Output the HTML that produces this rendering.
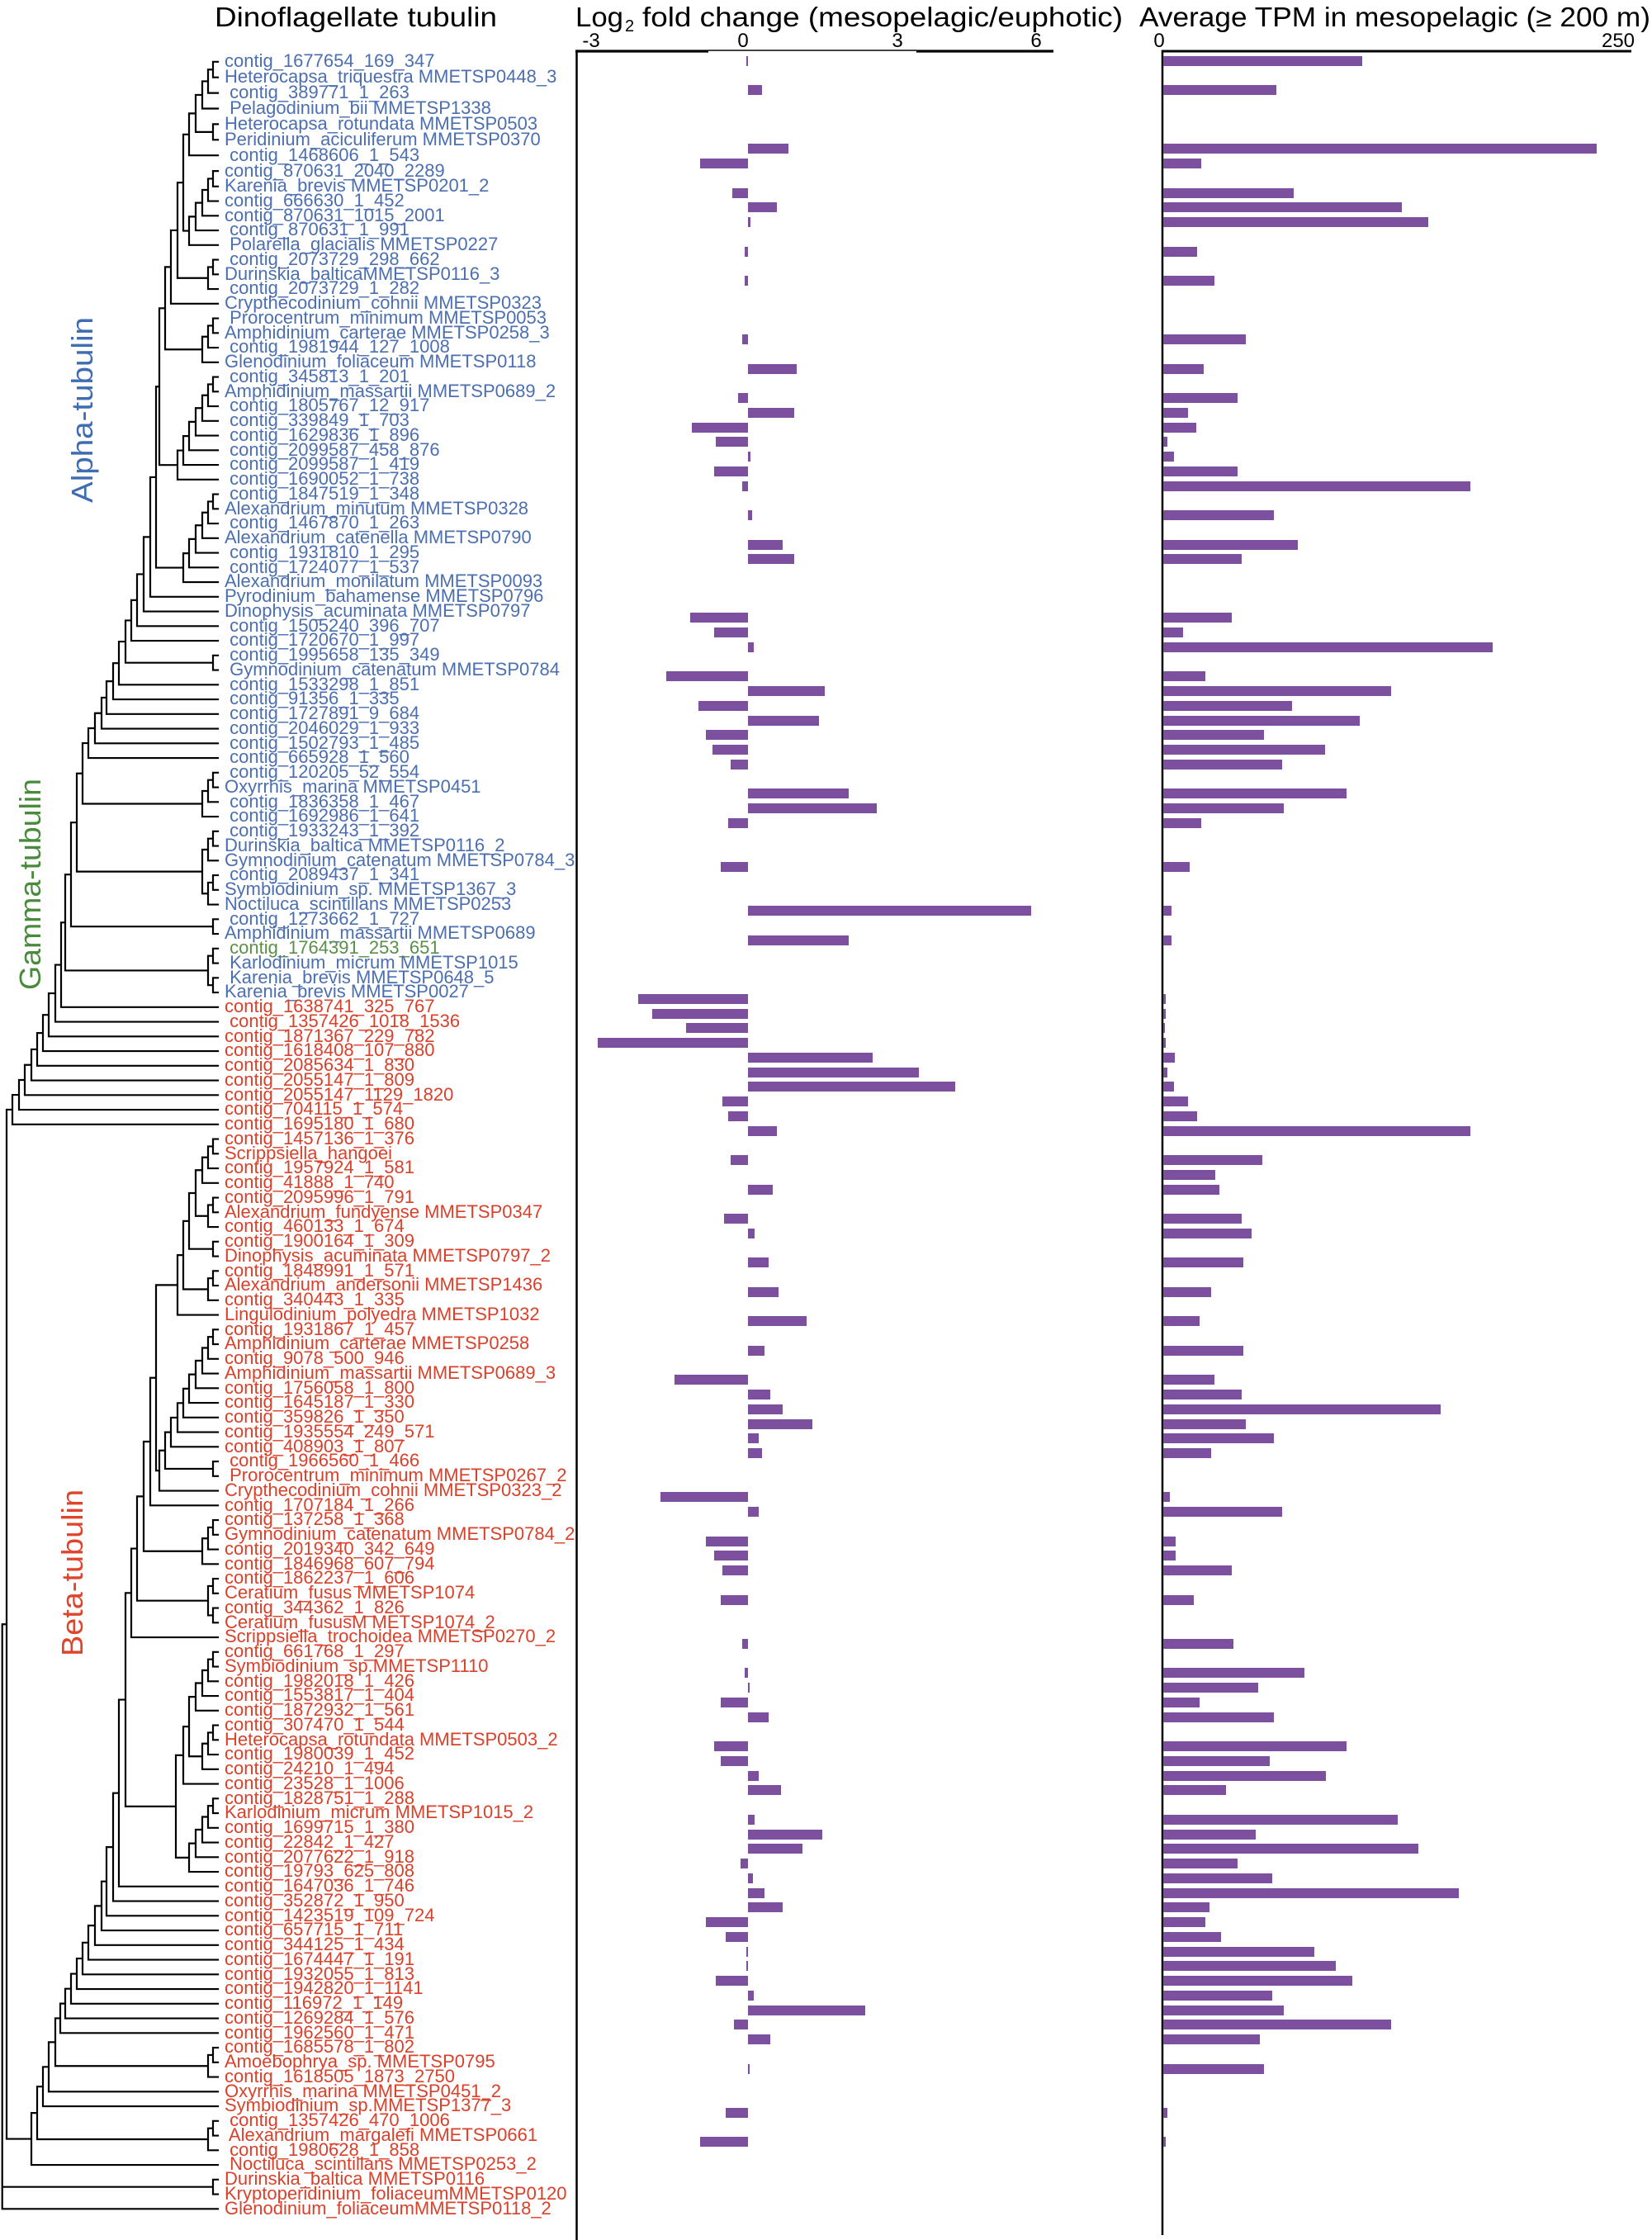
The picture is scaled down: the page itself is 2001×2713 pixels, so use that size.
<!DOCTYPE html>
<html><head><meta charset="utf-8">
<style>
html,body{margin:0;padding:0;background:#fff}
body{width:2001px;height:2713px;position:relative;overflow:hidden;font-family:"Liberation Sans",sans-serif}
svg{position:absolute;left:0;top:0}
#rows{position:absolute;left:0;top:64.925px;width:2001px}
.r{position:relative;height:17.75px}
.r span{position:absolute;left:272px;top:8.3px;line-height:20px;font-size:22px;white-space:pre}
.r i{position:absolute;top:2.875px;height:12px;background:#7d4f9f}
.p{left:905.8px}.n{right:1095.2px}.t{left:1409px}
.bl{color:#4b6fb0}.gr{color:#5a8f48}.rd{color:#d9412b}
</style></head><body>
<svg width="2001" height="2713" viewBox="0 0 2001 2713" font-family="Liberation Sans, sans-serif">
<text x="260" y="32" font-size="33" textLength="342" lengthAdjust="spacingAndGlyphs">Dinoflagellate tubulin</text>
<text x="697" y="32" font-size="33" textLength="58" lengthAdjust="spacingAndGlyphs">Log</text>
<text x="757" y="38" font-size="20">2</text>
<text x="778" y="32" font-size="33" textLength="582" lengthAdjust="spacingAndGlyphs">fold change (mesopelagic/euphotic)</text>
<text x="1380" y="32" font-size="33" textLength="619" lengthAdjust="spacingAndGlyphs">Average TPM in mesopelagic (≥ 200 m)</text>
<g font-size="24" text-anchor="middle">
<text x="716" y="57">-3</text><text x="900" y="57">0</text><text x="1087" y="57">3</text><text x="1255" y="57">6</text>
<text x="1404" y="57">0</text><text x="1960" y="57">250</text>
</g>
<g stroke="#000">
<line x1="697" y1="62" x2="858" y2="62" stroke-width="3.2"/>
<line x1="858" y1="61" x2="1110" y2="61" stroke="#444" stroke-width="2"/>
<line x1="1110" y1="62" x2="1276" y2="62" stroke-width="3.2"/>
<line x1="698.5" y1="60.5" x2="698.5" y2="2713" stroke-width="2.5"/>
<line x1="1407" y1="62" x2="1976" y2="62" stroke-width="3"/>
<line x1="1408" y1="60.5" x2="1408" y2="2707" stroke-width="2.5"/>
</g>
<text transform="translate(112,609) rotate(-90)" font-size="36" fill="#3f6db3" textLength="225" lengthAdjust="spacingAndGlyphs">Alpha-tubulin</text>
<text transform="translate(49,1199) rotate(-90)" font-size="36" fill="#4a8a3c" textLength="256" lengthAdjust="spacingAndGlyphs">Gamma-tubulin</text>
<text transform="translate(100,2006) rotate(-90)" font-size="36" fill="#e0452b" textLength="202" lengthAdjust="spacingAndGlyphs">Beta-tubulin</text>
<path id="tree" d="" fill="none" stroke="#000" stroke-width="2.2" stroke-linecap="square"/>
</svg>
<div id="rows">
<div class="bl">
<div class="r"><span style="top:-0.7px">contig_1677654_169_347</span><i class="n" style="width:1.7px"></i><i class="t" style="width:241px"></i></div>
<div class="r"><span style="top:0.45px">Heterocapsa_triquestra MMETSP0448_3</span></div>
<div class="r"><span style="top:1.6px"> contig_389771_1_263</span><i class="p" style="width:17.7px"></i><i class="t" style="width:136.5px"></i></div>
<div class="r"><span style="top:2.75px"> Pelagodinium_bii MMETSP1338</span></div>
<div class="r"><span style="top:3.9px">Heterocapsa_rotundata MMETSP0503</span></div>
<div class="r"><span style="top:5.05px">Peridinium_aciculiferum MMETSP0370</span></div>
<div class="r"><span style="top:6.2px"> contig_1468606_1_543</span><i class="p" style="width:49.7px"></i><i class="t" style="width:524.9px"></i></div>
<div class="r"><span style="top:7.35px">contig_870631_2040_2289</span><i class="n" style="width:58.1px"></i><i class="t" style="width:46.3px"></i></div>
<div class="r"><span>Karenia_brevis MMETSP0201_2</span></div>
<div class="r"><span>contig_666630_1_452</span><i class="n" style="width:18.5px"></i><i class="t" style="width:158.4px"></i></div>
<div class="r"><span>contig_870631_1015_2001</span><i class="p" style="width:35.4px"></i><i class="t" style="width:289px"></i></div>
<div class="r"><span> contig_870631_1_991</span><i class="p" style="width:3.4px"></i><i class="t" style="width:321px"></i></div>
<div class="r"><span> Polarella_glacialis MMETSP0227</span></div>
<div class="r"><span> contig_2073729_298_662</span><i class="n" style="width:4px"></i><i class="t" style="width:41.3px"></i></div>
<div class="r"><span>Durinskia_balticaMMETSP0116_3</span></div>
<div class="r"><span> contig_2073729_1_282</span><i class="n" style="width:4px"></i><i class="t" style="width:61.5px"></i></div>
<div class="r"><span>Crypthecodinium_cohnii MMETSP0323</span></div>
<div class="r"><span> Prorocentrum_minimum MMETSP0053</span></div>
<div class="r"><span>Amphidinium_carterae MMETSP0258_3</span></div>
<div class="r"><span> contig_1981944_127_1008</span><i class="n" style="width:6.7px"></i><i class="t" style="width:100.3px"></i></div>
<div class="r"><span>Glenodinium_foliaceum MMETSP0118</span></div>
<div class="r"><span> contig_345813_1_201</span><i class="p" style="width:59px"></i><i class="t" style="width:48.9px"></i></div>
<div class="r"><span>Amphidinium_massartii MMETSP0689_2</span></div>
<div class="r"><span> contig_1805767_12_917</span><i class="n" style="width:11.8px"></i><i class="t" style="width:90.1px"></i></div>
<div class="r"><span> contig_339849_1_703</span><i class="p" style="width:56.4px"></i><i class="t" style="width:29.5px"></i></div>
<div class="r"><span> contig_1629836_1_896</span><i class="n" style="width:67.4px"></i><i class="t" style="width:39.6px"></i></div>
<div class="r"><span> contig_2099587_458_876</span><i class="n" style="width:38.8px"></i><i class="t" style="width:5px"></i></div>
<div class="r"><span> contig_2099587_1_419</span><i class="p" style="width:3.4px"></i><i class="t" style="width:12.6px"></i></div>
<div class="r"><span> contig_1690052_1_738</span><i class="n" style="width:40.4px"></i><i class="t" style="width:90.1px"></i></div>
<div class="r"><span> contig_1847519_1_348</span><i class="n" style="width:6.7px"></i><i class="t" style="width:372.4px"></i></div>
<div class="r"><span>Alexandrium_minutum MMETSP0328</span></div>
<div class="r"><span> contig_1467870_1_263</span><i class="p" style="width:5px"></i><i class="t" style="width:134px"></i></div>
<div class="r"><span>Alexandrium_catenella MMETSP0790</span></div>
<div class="r"><span> contig_1931810_1_295</span><i class="p" style="width:42.1px"></i><i class="t" style="width:163.4px"></i></div>
<div class="r"><span> contig_1724077_1_537</span><i class="p" style="width:56.4px"></i><i class="t" style="width:95.2px"></i></div>
<div class="r"><span>Alexandrium_monilatum MMETSP0093</span></div>
<div class="r"><span>Pyrodinium_bahamense MMETSP0796</span></div>
<div class="r"><span>Dinophysis_acuminata MMETSP0797</span></div>
<div class="r"><span> contig_1505240_396_707</span><i class="n" style="width:69.9px"></i><i class="t" style="width:83.4px"></i></div>
<div class="r"><span> contig_1720670_1_997</span><i class="n" style="width:40.4px"></i><i class="t" style="width:24.4px"></i></div>
<div class="r"><span> contig_1995658_135_349</span><i class="p" style="width:7.6px"></i><i class="t" style="width:399.3px"></i></div>
<div class="r"><span> Gymnodinium_catenatum MMETSP0784</span></div>
<div class="r"><span> contig_1533298_1_851</span><i class="n" style="width:98.6px"></i><i class="t" style="width:51.4px"></i></div>
<div class="r"><span> contig_91356_1_335</span><i class="p" style="width:93.5px"></i><i class="t" style="width:275.5px"></i></div>
<div class="r"><span> contig_1727891_9_684</span><i class="n" style="width:59.8px"></i><i class="t" style="width:155.9px"></i></div>
<div class="r"><span> contig_2046029_1_933</span><i class="p" style="width:85.9px"></i><i class="t" style="width:238.4px"></i></div>
<div class="r"><span> contig_1502793_1_485</span><i class="n" style="width:50.5px"></i><i class="t" style="width:122.2px"></i></div>
<div class="r"><span> contig_665928_1_560</span><i class="n" style="width:43px"></i><i class="t" style="width:195.5px"></i></div>
<div class="r"><span> contig_120205_52_554</span><i class="n" style="width:21px"></i><i class="t" style="width:144.1px"></i></div>
<div class="r"><span>Oxyrrhis_marina MMETSP0451</span></div>
<div class="r"><span> contig_1836358_1_467</span><i class="p" style="width:122.2px"></i><i class="t" style="width:221.6px"></i></div>
<div class="r"><span> contig_1692986_1_641</span><i class="p" style="width:156.7px"></i><i class="t" style="width:145.7px"></i></div>
<div class="r"><span> contig_1933243_1_392</span><i class="n" style="width:23.6px"></i><i class="t" style="width:46.3px"></i></div>
<div class="r"><span>Durinskia_baltica MMETSP0116_2</span></div>
<div class="r"><span>Gymnodinium_catenatum MMETSP0784_3</span></div>
<div class="r"><span> contig_2089437_1_341</span><i class="n" style="width:32.9px"></i><i class="t" style="width:32px"></i></div>
<div class="r"><span>Symbiodinium_sp. MMETSP1367_3</span></div>
<div class="r"><span>Noctiluca_scintillans MMETSP0253</span></div>
<div class="r"><span> contig_1273662_1_727</span><i class="p" style="width:342.9px"></i><i class="t" style="width:10.1px"></i></div>
<div class="r"><span>Amphidinium_massartii MMETSP0689</span></div>
</div>
<div class="gr">
<div class="r"><span> contig_1764391_253_651</span><i class="p" style="width:122.2px"></i><i class="t" style="width:10.1px"></i></div>
</div>
<div class="bl">
<div class="r"><span> Karlodinium_micrum MMETSP1015</span></div>
<div class="r"><span> Karenia_brevis MMETSP0648_5</span></div>
<div class="r"><span>Karenia_brevis MMETSP0027</span></div>
</div>
<div class="rd">
<div class="r"><span>contig_1638741_325_767</span><i class="n" style="width:133.1px"></i><i class="t" style="width:2.5px"></i></div>
<div class="r"><span> contig_1357426_1018_1536</span><i class="n" style="width:115.4px"></i><i class="t" style="width:2.5px"></i></div>
<div class="r"><span>contig_1871367_229_782</span><i class="n" style="width:75px"></i><i class="t" style="width:1.7px"></i></div>
<div class="r"><span>contig_1618408_107_880</span><i class="n" style="width:182px"></i><i class="t" style="width:2.5px"></i></div>
<div class="r"><span>contig_2085634_1_830</span><i class="p" style="width:150.8px"></i><i class="t" style="width:14.3px"></i></div>
<div class="r"><span>contig_2055147_1_809</span><i class="p" style="width:207.2px"></i><i class="t" style="width:5px"></i></div>
<div class="r"><span>contig_2055147_1129_1820</span><i class="p" style="width:251px"></i><i class="t" style="width:12.6px"></i></div>
<div class="r"><span>contig_704115_1_574</span><i class="n" style="width:31.2px"></i><i class="t" style="width:29.5px"></i></div>
<div class="r"><span>contig_1695180_1_680</span><i class="n" style="width:23.6px"></i><i class="t" style="width:41.3px"></i></div>
<div class="r"><span>contig_1457136_1_376</span><i class="p" style="width:35.4px"></i><i class="t" style="width:372.4px"></i></div>
<div class="r"><span>Scrippsiella_hangoei</span></div>
<div class="r"><span>contig_1957924_1_581</span><i class="n" style="width:21px"></i><i class="t" style="width:119.6px"></i></div>
<div class="r"><span>contig_41888_1_740</span><i class="t" style="width:63.2px"></i></div>
<div class="r"><span>contig_2095996_1_791</span><i class="p" style="width:30.3px"></i><i class="t" style="width:68.2px"></i></div>
<div class="r"><span>Alexandrium_fundyense MMETSP0347</span></div>
<div class="r"><span>contig_460133_1_674</span><i class="n" style="width:28.6px"></i><i class="t" style="width:95.2px"></i></div>
<div class="r"><span>contig_1900164_1_309</span><i class="p" style="width:8.4px"></i><i class="t" style="width:107px"></i></div>
<div class="r"><span>Dinophysis_acuminata MMETSP0797_2</span></div>
<div class="r"><span>contig_1848991_1_571</span><i class="p" style="width:25.3px"></i><i class="t" style="width:96.9px"></i></div>
<div class="r"><span>Alexandrium_andersonii MMETSP1436</span></div>
<div class="r"><span>contig_340443_1_335</span><i class="p" style="width:37.1px"></i><i class="t" style="width:58.1px"></i></div>
<div class="r"><span>Lingulodinium_polyedra MMETSP1032</span></div>
<div class="r"><span>contig_1931867_1_457</span><i class="p" style="width:71.6px"></i><i class="t" style="width:43.8px"></i></div>
<div class="r"><span>Amphidinium_carterae MMETSP0258</span></div>
<div class="r"><span>contig_9078_500_946</span><i class="p" style="width:20.2px"></i><i class="t" style="width:96.9px"></i></div>
<div class="r"><span>Amphidinium_massartii MMETSP0689_3</span></div>
<div class="r"><span>contig_1756058_1_800</span><i class="n" style="width:89.3px"></i><i class="t" style="width:61.5px"></i></div>
<div class="r"><span>contig_1645187_1_330</span><i class="p" style="width:27px"></i><i class="t" style="width:95.2px"></i></div>
<div class="r"><span>contig_359826_1_350</span><i class="p" style="width:42.1px"></i><i class="t" style="width:336.1px"></i></div>
<div class="r"><span>contig_1935554_249_571</span><i class="p" style="width:78.3px"></i><i class="t" style="width:100.3px"></i></div>
<div class="r"><span>contig_408903_1_807</span><i class="p" style="width:13.5px"></i><i class="t" style="width:134px"></i></div>
<div class="r"><span> contig_1966560_1_466</span><i class="p" style="width:17.7px"></i><i class="t" style="width:58.1px"></i></div>
<div class="r"><span> Prorocentrum_minimum MMETSP0267_2</span></div>
<div class="r"><span>Crypthecodinium_cohnii MMETSP0323_2</span></div>
<div class="r"><span>contig_1707184_1_266</span><i class="n" style="width:106.2px"></i><i class="t" style="width:8.4px"></i></div>
<div class="r"><span>contig_137258_1_368</span><i class="p" style="width:13.5px"></i><i class="t" style="width:144.1px"></i></div>
<div class="r"><span>Gymnodinium_catenatum MMETSP0784_2</span></div>
<div class="r"><span>contig_2019340_342_649</span><i class="n" style="width:50.5px"></i><i class="t" style="width:15.2px"></i></div>
<div class="r"><span>contig_1846968_607_794</span><i class="n" style="width:40.4px"></i><i class="t" style="width:15.2px"></i></div>
<div class="r"><span>contig_1862237_1_606</span><i class="n" style="width:31.2px"></i><i class="t" style="width:83.4px"></i></div>
<div class="r"><span>Ceratium_fusus MMETSP1074</span></div>
<div class="r"><span>contig_344362_1_826</span><i class="n" style="width:32.9px"></i><i class="t" style="width:37.1px"></i></div>
<div class="r"><span>Ceratium_fususM METSP1074_2</span></div>
<div class="r"><span>Scrippsiella_trochoidea MMETSP0270_2</span></div>
<div class="r"><span>contig_661768_1_297</span><i class="n" style="width:6.7px"></i><i class="t" style="width:85.1px"></i></div>
<div class="r"><span>Symbiodinium_sp.MMETSP1110</span></div>
<div class="r"><span>contig_1982018_1_426</span><i class="n" style="width:3.4px"></i><i class="t" style="width:171px"></i></div>
<div class="r"><span>contig_1553817_1_404</span><i class="p" style="width:2.5px"></i><i class="t" style="width:114.6px"></i></div>
<div class="r"><span>contig_1872932_1_561</span><i class="n" style="width:32.9px"></i><i class="t" style="width:43.8px"></i></div>
<div class="r"><span>contig_307470_1_544</span><i class="p" style="width:25.3px"></i><i class="t" style="width:134px"></i></div>
<div class="r"><span>Heterocapsa_rotundata MMETSP0503_2</span></div>
<div class="r"><span>contig_1980039_1_452</span><i class="n" style="width:40.4px"></i><i class="t" style="width:221.6px"></i></div>
<div class="r"><span>contig_24210_1_494</span><i class="n" style="width:32.9px"></i><i class="t" style="width:128.9px"></i></div>
<div class="r"><span>contig_23528_1_1006</span><i class="p" style="width:13.5px"></i><i class="t" style="width:197.1px"></i></div>
<div class="r"><span>contig_1828751_1_288</span><i class="p" style="width:40.4px"></i><i class="t" style="width:75.8px"></i></div>
<div class="r"><span>Karlodinium_micrum MMETSP1015_2</span></div>
<div class="r"><span>contig_1699715_1_380</span><i class="p" style="width:8.4px"></i><i class="t" style="width:283.9px"></i></div>
<div class="r"><span>contig_22842_1_427</span><i class="p" style="width:90.1px"></i><i class="t" style="width:112px"></i></div>
<div class="r"><span>contig_2077622_1_918</span><i class="p" style="width:66.6px"></i><i class="t" style="width:309.2px"></i></div>
<div class="r"><span>contig_19793_625_808</span><i class="n" style="width:9.3px"></i><i class="t" style="width:90.1px"></i></div>
<div class="r"><span>contig_1647036_1_746</span><i class="p" style="width:5.9px"></i><i class="t" style="width:132.3px"></i></div>
<div class="r"><span>contig_352872_1_950</span><i class="p" style="width:20.2px"></i><i class="t" style="width:358px"></i></div>
<div class="r"><span>contig_1423519_109_724</span><i class="p" style="width:42.1px"></i><i class="t" style="width:56.4px"></i></div>
<div class="r"><span>contig_657715_1_711</span><i class="n" style="width:50.5px"></i><i class="t" style="width:51.4px"></i></div>
<div class="r"><span>contig_344125_1_434</span><i class="n" style="width:27px"></i><i class="t" style="width:69.9px"></i></div>
<div class="r"><span>contig_1674447_1_191</span><i class="n" style="width:1.7px"></i><i class="t" style="width:182.8px"></i></div>
<div class="r"><span>contig_1932055_1_813</span><i class="n" style="width:1.7px"></i><i class="t" style="width:208.9px"></i></div>
<div class="r"><span>contig_1942820_1_1141</span><i class="n" style="width:38.8px"></i><i class="t" style="width:229.2px"></i></div>
<div class="r"><span>contig_116972_1_149</span><i class="p" style="width:7.6px"></i><i class="t" style="width:132.3px"></i></div>
<div class="r"><span>contig_1269284_1_576</span><i class="p" style="width:142.4px"></i><i class="t" style="width:145.7px"></i></div>
<div class="r"><span>contig_1962560_1_471</span><i class="n" style="width:16.8px"></i><i class="t" style="width:275.5px"></i></div>
<div class="r"><span>contig_1685578_1_802</span><i class="p" style="width:27px"></i><i class="t" style="width:117.1px"></i></div>
<div class="r"><span>Amoebophrya_sp. MMETSP0795</span></div>
<div class="r"><span>contig_1618505_1873_2750</span><i class="p" style="width:2.5px"></i><i class="t" style="width:122.2px"></i></div>
<div class="r"><span>Oxyrrhis_marina MMETSP0451_2</span></div>
<div class="r"><span>Symbiodinium_sp.MMETSP1377_3</span></div>
<div class="r"><span> contig_1357426_470_1006</span><i class="n" style="width:27px"></i><i class="t" style="width:5px"></i></div>
<div class="r"><span> Alexandrium_margalefi MMETSP0661</span></div>
<div class="r"><span> contig_1980628_1_858</span><i class="n" style="width:58.1px"></i><i class="t" style="width:2.5px"></i></div>
<div class="r"><span> Noctiluca_scintillans MMETSP0253_2</span></div>
<div class="r"><span>Durinskia_baltica MMETSP0116</span></div>
<div class="r"><span>Kryptoperidinium_foliaceumMMETSP0120</span></div>
<div class="r"><span>Glenodinium_foliaceumMMETSP0118_2</span></div>
</div>
</div>
<script>
(function(){
var Y=function(n){var off=Math.min(10,1+(n-1)*1.15);return 73.8+(n-1)*17.75+off;};
var TIP=264;
function N(x){return {x:x,c:Array.prototype.slice.call(arguments,1)};}
var d='';
function draw(nd){
 if(typeof nd==='number') return Y(nd);
 var ys=[];
 for(var i=0;i<nd.c.length;i++){
  var ch=nd.c[i];var y=draw(ch);
  var cx=(typeof ch==='number')?TIP:ch.x;
  d+='M'+nd.x+' '+y.toFixed(2)+'H'+cx;ys.push(y);
 }
 var y0=Math.min.apply(null,ys),y1=Math.max.apply(null,ys);
 d+='M'+nd.x+' '+y0.toFixed(2)+'V'+y1.toFixed(2);
 return (y0+y1)/2;
}
var A1=N(229,N(237,N(245,N(252,N(258,1,2),3),4),N(258,5,6)),7);
var A2=N(229,N(237,N(245,N(252,N(258,8,9),10),11),12),13);
var t=N(222,A1,A2);
t=N(215,t,N(252,N(258,14,15),16));
t=N(207,t,17);
t=N(200,t,N(245,N(252,N(258,18,19),20),21));
t=N(193,t,N(215,N(222,N(229,N(237,N(245,N(252,N(258,22,23),24),25),26),27),28),29));
t=N(189,t,N(222,N(229,N(237,N(245,N(252,N(258,30,31),32),33),34),35),36));
t=N(182,t,37);t=N(174,t,38);t=N(166,t,39);t=N(159,t,40);t=N(152,t,N(258,41,42));
t=N(144,t,43);t=N(137,t,44);t=N(129,t,45);t=N(123,t,46);t=N(115,t,47);t=N(107,t,48);
t=N(100,t,N(245,N(252,N(258,49,50),51),52));
t=N(93,t,N(245,N(252,N(258,53,54),55),N(252,N(258,56,57),58)));
t=N(86,t,N(258,59,60));
t=N(79,t,N(252,N(258,61,62),N(258,63,64)));
t=N(74,t,65);t=N(67,t,66);t=N(59,t,67);t=N(52,t,68);t=N(45,t,69);t=N(38,t,70);t=N(30,t,71);t=N(23,t,72);t=N(15,t,73);
var AG=t;
var b=N(237,N(245,N(252,N(258,74,75),76),77),N(252,N(258,78,79),80));
b=N(229,b,N(258,81,82));
b=N(222,b,N(252,N(258,83,84),85));
b=N(215,b,86);
var u=N(252,N(258,87,88),89);
u=N(245,u,90);u=N(237,u,91);u=N(229,u,92);u=N(222,u,93);u=N(215,u,94);u=N(207,u,95);u=N(200,u,N(258,96,97));u=N(193,u,98);
b=N(189,b,u);
b=N(182,b,99);
b=N(174,b,N(245,N(252,N(258,100,101),102),103));
b=N(166,b,N(252,N(258,104,105),N(258,106,107)));
b=N(159,b,108);
var B3=N(213,N(222,N(229,N(237,N(245,N(252,N(258,109,110),111),112),113),N(245,N(252,N(258,114,115),116),117)),118),N(229,N(237,N(245,N(252,N(258,119,120),121),122),123),124));
b=N(152,b,B3);
b=N(144,b,125);b=N(137,b,126);b=N(129,b,127);b=N(123,b,128);b=N(115,b,129);b=N(107,b,130);b=N(100,b,131);b=N(93,b,132);b=N(86,b,133);b=N(79,b,134);b=N(73,b,135);
b=N(67,b,N(252,N(258,136,137),138));
b=N(59,b,139);b=N(52,b,140);
b=N(45,b,N(252,N(258,141,142),143));
b=N(38,b,144);
var root=N(2.7,N(8,AG,b),N(258,145,146),147);
draw(root);
document.getElementById('tree').setAttribute('d',d);
})();
</script>
</body></html>
